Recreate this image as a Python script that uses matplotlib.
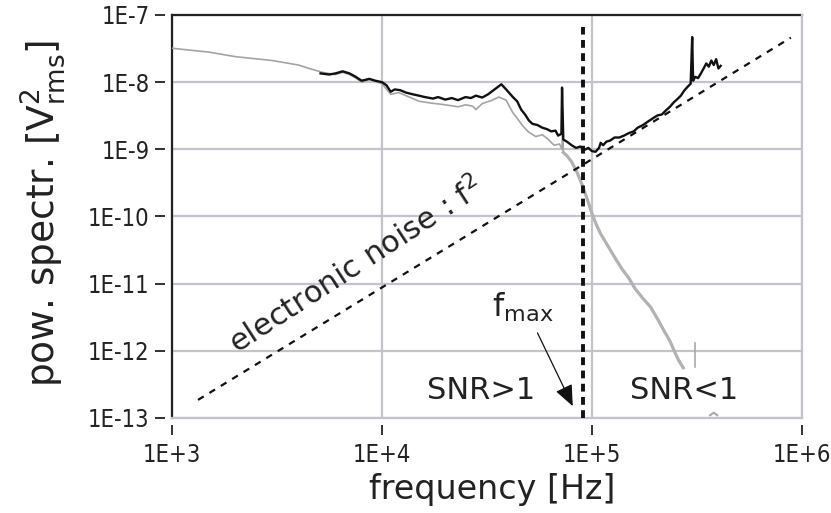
import matplotlib
matplotlib.use("Agg")
import matplotlib.pyplot as plt
from matplotlib import font_manager

# ---- data -------------------------------------------------------------
x_ticks = [1e3, 1e4, 1e5, 1e6]
x_tick_labels = ["1E+3", "1E+4", "1E+5", "1E+6"]
y_ticks = [1e-13, 1e-12, 1e-11, 1e-10, 1e-9, 1e-8, 1e-7]
y_tick_labels = ["1E-13", "1E-12", "1E-11", "1E-10", "1E-9", "1E-8", "1E-7"]

# spectrum without signal (gray)
gray_f = [1.0e3, 1.5e3, 2.0e3, 3.0e3, 4.0e3, 4.5e3, 5.2e3, 6.0e3, 6.5e3, 7.0e3,
          7.5e3, 8.0e3, 8.7e3, 9.4e3, 1.0e4, 1.1e4, 1.2e4, 1.35e4, 1.5e4, 1.7e4,
          1.9e4, 2.1e4, 2.3e4, 2.5e4, 2.7e4, 2.8e4, 3.0e4, 3.3e4, 3.6e4, 3.9e4,
          4.2e4, 4.4e4, 4.7e4, 5.0e4, 5.4e4, 5.8e4, 6.2e4, 6.6e4, 7.0e4, 7.2e4,
          7.25e4, 7.3e4, 7.6e4, 8.0e4, 8.5e4, 9.0e4, 9.5e4, 1.0e5, 1.05e5, 1.1e5,
          1.2e5, 1.3e5, 1.4e5, 1.5e5, 1.6e5, 1.75e5, 1.9e5, 2.05e5, 2.2e5, 2.35e5,
          2.5e5, 2.6e5, 2.72e5]
gray_p = [3.2e-8, 2.8e-8, 2.4e-8, 2.1e-8, 1.8e-8, 1.6e-8, 1.4e-8, 1.3e-8, 1.4e-8, 1.3e-8,
          1.15e-8, 1.0e-8, 1.1e-8, 1.02e-8, 9.5e-9, 6.6e-9, 7.0e-9, 6.0e-9, 5.2e-9, 4.9e-9,
          4.7e-9, 4.5e-9, 4.3e-9, 4.6e-9, 4.4e-9, 3.9e-9, 4.8e-9, 5.3e-9, 6.0e-9, 5.4e-9,
          3.5e-9, 2.9e-9, 2.2e-9, 1.8e-9, 1.55e-9, 1.65e-9, 1.4e-9, 1.15e-9, 1.2e-9, 1.0e-9,
          3.0e-9, 9.0e-10, 8.0e-10, 6.5e-10, 4.5e-10, 2.9e-10, 1.8e-10, 1.1e-10, 7.5e-11, 5.5e-11,
          3.5e-11, 2.3e-11, 1.6e-11, 1.2e-11, 8.5e-12, 6.0e-12, 4.5e-12, 3.0e-12, 2.0e-12, 1.4e-12,
          9.0e-13, 7.0e-13, 5.6e-13]

# isolated gray bits at high frequency
gray_spike_f = [3.1e5, 3.1e5]
gray_spike_p = [5.7e-13, 1.3e-12]
gray_tail_f = [3.65e5, 3.8e5, 3.95e5]
gray_tail_p = [1.1e-13, 1.2e-13, 1.1e-13]

# spectrum with signal (black)
black_f = [5.1e3, 5.6e3, 6.0e3, 6.5e3, 7.0e3, 7.5e3, 8.0e3, 8.7e3, 9.3e3, 1.0e4,
           1.05e4, 1.1e4, 1.15e4, 1.22e4, 1.3e4, 1.4e4, 1.5e4, 1.6e4, 1.75e4, 1.85e4,
           2.0e4, 2.15e4, 2.3e4, 2.5e4, 2.65e4, 2.8e4, 3.0e4, 3.2e4, 3.4e4, 3.7e4,
           3.9e4, 4.2e4, 4.4e4, 4.6e4, 4.8e4, 5.0e4, 5.2e4, 5.5e4, 5.8e4, 6.1e4,
           6.4e4, 6.7e4, 6.9e4, 7.15e4, 7.2e4, 7.25e4, 7.3e4, 7.6e4, 8.0e4, 8.4e4,
           8.8e4, 9.2e4, 9.6e4, 1.0e5, 1.04e5, 1.08e5, 1.1e5, 1.13e5, 1.17e5, 1.22e5,
           1.28e5, 1.35e5, 1.42e5, 1.5e5, 1.58e5, 1.65e5, 1.75e5, 1.85e5, 1.95e5, 2.05e5,
           2.15e5, 2.25e5, 2.35e5, 2.45e5, 2.55e5, 2.65e5, 2.75e5, 2.85e5, 2.95e5, 3.0e5,
           3.03e5, 3.1e5, 3.2e5, 3.3e5, 3.4e5, 3.5e5, 3.6e5, 3.7e5, 3.8e5, 3.9e5,
           4.0e5, 4.1e5]
black_p = [1.35e-8, 1.3e-8, 1.35e-8, 1.45e-8, 1.35e-8, 1.2e-8, 1.05e-8, 1.12e-8, 1.05e-8, 1.0e-8,
           9.0e-9, 7.2e-9, 7.8e-9, 7.6e-9, 7.0e-9, 6.6e-9, 6.3e-9, 6.0e-9, 5.7e-9, 6.0e-9,
           5.5e-9, 5.8e-9, 5.4e-9, 6.0e-9, 5.8e-9, 6.3e-9, 5.9e-9, 6.6e-9, 7.6e-9, 9.3e-9,
           7.8e-9, 6.0e-9, 5.2e-9, 3.9e-9, 3.3e-9, 2.7e-9, 2.4e-9, 2.3e-9, 2.1e-9, 2.0e-9,
           1.85e-9, 1.9e-9, 1.6e-9, 1.7e-9, 8.3e-9, 3.5e-9, 1.4e-9, 1.3e-9, 1.15e-9, 1.05e-9,
           1.1e-9, 9.8e-10, 1.05e-9, 9.4e-10, 9.2e-10, 1.05e-9, 1.25e-9, 1.15e-9, 1.3e-9, 1.35e-9,
           1.5e-9, 1.5e-9, 1.6e-9, 1.75e-9, 1.85e-9, 2.1e-9, 2.3e-9, 2.6e-9, 2.9e-9, 3.2e-9,
           3.3e-9, 3.8e-9, 4.3e-9, 5.0e-9, 5.6e-9, 6.3e-9, 7.5e-9, 8.5e-9, 9.5e-9, 4.7e-8,
           1.05e-8, 1.2e-8, 1.15e-8, 1.35e-8, 1.6e-8, 1.9e-8, 1.7e-8, 2.1e-8, 1.8e-8, 2.2e-8,
           1.6e-8, 1.75e-8]

# electronic noise line (~ f^2), end points
noise_f = [1.33e3, 8.85e5]
noise_p = [1.86e-13, 4.6e-8]

f_max = 9.06e4

# ---- fonts ------------------------------------------------------------
text_font = "DejaVu Sans"
condensed = [f for f in font_manager.fontManager.ttflist
             if f.name in ("Liberation Sans Narrow", "DejaVu Sans")
             and f.stretch in ("condensed", "semi-condensed", "narrow")
             and f.style == "normal"
             and f.weight in (400, "normal", "regular", "book")]
tick_fp = (font_manager.FontProperties(fname=condensed[0].fname, size=17)
           if condensed else font_manager.FontProperties(family="DejaVu Sans", size=14))

W, H = 831, 513
fig = plt.figure(figsize=(W / 100, H / 100), dpi=100)
L, R, T, B = 172, 802, 15, 418
ax = fig.add_axes([L / W, 1 - B / H, (R - L) / W, (B - T) / H])
ax.set_xscale("log")
ax.set_yscale("log")
ax.set_xlim(1e3, 1e6)
ax.set_ylim(1e-13, 1e-7)

grid_c = "#c3c3cb"
ax.set_xticks(x_ticks)
ax.set_xticklabels(x_tick_labels)
ax.set_yticks(y_ticks)
ax.set_yticklabels(y_tick_labels)
ax.minorticks_off()
ax.grid(True, color=grid_c, lw=1.6)
ax.set_axisbelow(True)

# ticks sit slightly away from the frame
for side in ("left", "bottom"):
    ax.spines[side].set_position(("outward", 5))
    ax.spines[side].set_visible(False)
for side in ("top", "right"):
    ax.spines[side].set_visible(False)
ax.plot([0, 1], [1, 1], transform=ax.transAxes, color="#222222", lw=1.6, clip_on=False)
ax.plot([0, 0], [0, 1], transform=ax.transAxes, color="#222222", lw=1.6, clip_on=False)
ax.plot([1, 1], [0, 1], transform=ax.transAxes, color=grid_c, lw=1.6, clip_on=False)
ax.plot([0, 1], [0, 0], transform=ax.transAxes, color=grid_c, lw=1.6, clip_on=False)

ax.tick_params(axis="both", direction="out", length=7, width=1.3, color="#222222",
               labelcolor="#222222")
ax.tick_params(axis="y", pad=4)
ax.tick_params(axis="x", pad=6)
for lab in ax.get_xticklabels() + ax.get_yticklabels():
    lab.set_fontproperties(tick_fp)

# curves
split = gray_f.index(7.3e4)
ax.plot(gray_f[:split + 1], gray_p[:split + 1], color="#a4a4a4", lw=1.2, zorder=3)
ax.plot(gray_f[split:], gray_p[split:], color="#b2b2b2", lw=2.3, zorder=3)
ax.plot(gray_spike_f, gray_spike_p, color="#a9a9a9", lw=1.2, zorder=3)
ax.plot(gray_tail_f, gray_tail_p, color="#a9a9a9", lw=1.5, zorder=3)
ax.plot(black_f, black_p, color="#111111", lw=1.7, zorder=4)

# electronic noise and f_max
ax.plot(noise_f, noise_p, color="#111111", lw=1.6, linestyle=(0, (3, 3)), zorder=5)
ax.plot([f_max, f_max], [1e-13, 6.6e-8], color="#111111", lw=2.8,
        linestyle=(0, (2, 1.4)), zorder=5)

ax.text(7.55e3, 1.87e-11, "electronic noise : f$^2$", rotation=33,
        rotation_mode="anchor", ha="center", va="center", fontsize=22,
        family=text_font, color="#222222")
ax.text(4.69e4, 4.4e-12, "f$_{\\mathrm{max}}$", ha="center", va="center",
        fontsize=23, family=text_font, color="#222222")
ax.annotate("", xy=(8.1e4, 1.5e-13), xytext=(5.5e4, 1.85e-12),
            arrowprops=dict(arrowstyle="-|>,head_length=1.3,head_width=0.55",
                            color="#111111", lw=0.9, shrinkA=0, shrinkB=0))
ax.text(2.95e4, 2.6e-13, "SNR>1", ha="center", va="center", fontsize=22,
        family=text_font, color="#222222")
ax.text(2.75e5, 2.6e-13, "SNR<1", ha="center", va="center", fontsize=22,
        family=text_font, color="#222222")

fig.text(43 / W, 1 - 213 / H, "pow. spectr. [V$^2_{\\mathrm{rms}}$]", rotation=90,
         ha="center", va="center", fontsize=27, family=text_font, color="#222222")
fig.text(492 / W, 1 - 490 / H, "frequency [Hz]", ha="center", va="center",
         fontsize=24, family=text_font, color="#222222")

fig.savefig("out.png", dpi=100)
